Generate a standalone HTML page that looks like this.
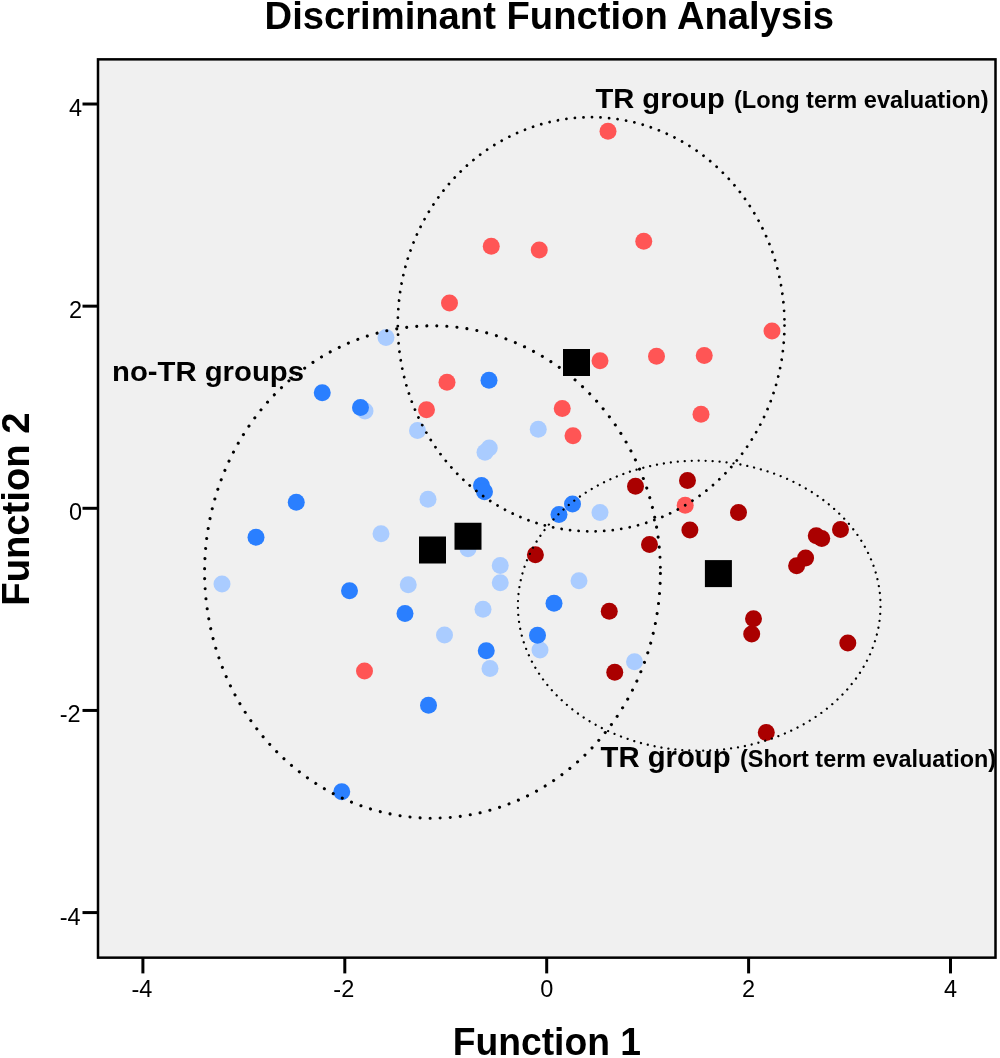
<!DOCTYPE html>
<html><head><meta charset="utf-8"><title>Discriminant Function Analysis</title>
<style>
html,body{margin:0;padding:0;background:#fff;}
svg{display:block;}
text{font-family:"Liberation Sans",Arial,sans-serif;fill:#000;}
.b{font-weight:bold;}
</style></head><body>
<svg width="1000" height="1058" viewBox="0 0 1000 1058">
<rect x="0" y="0" width="1000" height="1058" fill="#ffffff"/>
<rect x="98.0" y="59.35" width="897.5" height="898.3" fill="#f0f0f0" stroke="#000" stroke-width="2.5"/>

<g stroke="#000" stroke-width="3" fill="none">
<line x1="82.5" y1="912.58" x2="97.5" y2="912.58"/>
<line x1="142.90" y1="958" x2="142.90" y2="973.4"/>
<line x1="82.5" y1="710.44" x2="97.5" y2="710.44"/>
<line x1="344.80" y1="958" x2="344.80" y2="973.4"/>
<line x1="82.5" y1="508.30" x2="97.5" y2="508.30"/>
<line x1="546.70" y1="958" x2="546.70" y2="973.4"/>
<line x1="82.5" y1="306.16" x2="97.5" y2="306.16"/>
<line x1="748.60" y1="958" x2="748.60" y2="973.4"/>
<line x1="82.5" y1="104.02" x2="97.5" y2="104.02"/>
<line x1="950.50" y1="958" x2="950.50" y2="973.4"/>
</g>
<g font-size="23.5">
<text x="80.7" y="924.58" text-anchor="end">-4</text>
<text x="141.90" y="997" text-anchor="middle">-4</text>
<text x="80.7" y="722.44" text-anchor="end">-2</text>
<text x="343.80" y="997" text-anchor="middle">-2</text>
<text x="82.0" y="520.30" text-anchor="end">0</text>
<text x="546.70" y="997" text-anchor="middle">0</text>
<text x="82.0" y="318.16" text-anchor="end">2</text>
<text x="748.60" y="997" text-anchor="middle">2</text>
<text x="82.0" y="116.02" text-anchor="end">4</text>
<text x="950.50" y="997" text-anchor="middle">4</text>
</g>
<g fill="#aaccff">
<circle cx="386" cy="337.5" r="8.5"/>
<circle cx="365" cy="411" r="8.5"/>
<circle cx="417.5" cy="430.5" r="8.5"/>
<circle cx="428" cy="499.25" r="8.5"/>
<circle cx="381" cy="533.75" r="8.5"/>
<circle cx="538.25" cy="429.25" r="8.5"/>
<circle cx="489.25" cy="448" r="8.5"/>
<circle cx="485" cy="452.25" r="8.5"/>
<circle cx="600" cy="512.5" r="8.5"/>
<circle cx="222" cy="584" r="8.5"/>
<circle cx="408.25" cy="584.75" r="8.5"/>
<circle cx="444.5" cy="635" r="8.5"/>
<circle cx="468" cy="548.75" r="8.5"/>
<circle cx="500.25" cy="565.5" r="8.5"/>
<circle cx="500.25" cy="582.75" r="8.5"/>
<circle cx="579" cy="580.75" r="8.5"/>
<circle cx="483" cy="609.25" r="8.5"/>
<circle cx="540" cy="650" r="8.5"/>
<circle cx="490" cy="668.5" r="8.5"/>
<circle cx="634.5" cy="661.75" r="8.5"/>
</g>
<g fill="#2a7fff">
<circle cx="322.25" cy="392.75" r="8.5"/>
<circle cx="360.5" cy="407.5" r="8.5"/>
<circle cx="296.25" cy="502.25" r="8.5"/>
<circle cx="256" cy="537.25" r="8.5"/>
<circle cx="489" cy="380.25" r="8.5"/>
<circle cx="481.5" cy="485.5" r="8.5"/>
<circle cx="484.5" cy="491.75" r="8.5"/>
<circle cx="572.5" cy="504" r="8.5"/>
<circle cx="559" cy="514.5" r="8.5"/>
<circle cx="349.5" cy="590.75" r="8.5"/>
<circle cx="405" cy="613.5" r="8.5"/>
<circle cx="428.5" cy="705.25" r="8.5"/>
<circle cx="341.75" cy="791.75" r="8.5"/>
<circle cx="554" cy="603.25" r="8.5"/>
<circle cx="537.5" cy="635.25" r="8.5"/>
<circle cx="486.25" cy="650.75" r="8.5"/>
</g>
<g fill="#ff5555">
<circle cx="426.5" cy="409.75" r="8.5"/>
<circle cx="447" cy="382.25" r="8.5"/>
<circle cx="449.5" cy="303" r="8.5"/>
<circle cx="600" cy="360.75" r="8.5"/>
<circle cx="656.5" cy="356.25" r="8.5"/>
<circle cx="562.25" cy="408.5" r="8.5"/>
<circle cx="573" cy="435.75" r="8.5"/>
<circle cx="685.2" cy="505.3" r="8.5"/>
<circle cx="772" cy="331" r="8.5"/>
<circle cx="704.25" cy="355.5" r="8.5"/>
<circle cx="701" cy="414.25" r="8.5"/>
<circle cx="608" cy="131.25" r="8.5"/>
<circle cx="491.25" cy="246.25" r="8.5"/>
<circle cx="539.25" cy="250" r="8.5"/>
<circle cx="643.75" cy="241.25" r="8.5"/>
<circle cx="364.5" cy="671" r="8.5"/>
</g>
<g fill="#aa0000">
<circle cx="635.5" cy="486.2" r="8.5"/>
<circle cx="687.5" cy="480.5" r="8.5"/>
<circle cx="689.9" cy="530.1" r="8.5"/>
<circle cx="649.5" cy="544.5" r="8.5"/>
<circle cx="535.4" cy="554.8" r="8.5"/>
<circle cx="738.5" cy="512.5" r="8.5"/>
<circle cx="840.5" cy="529.5" r="8.5"/>
<circle cx="816.25" cy="535.75" r="8.5"/>
<circle cx="821.75" cy="538.6" r="8.5"/>
<circle cx="805.6" cy="558" r="8.5"/>
<circle cx="796.6" cy="565.7" r="8.5"/>
<circle cx="753.5" cy="618.7" r="8.5"/>
<circle cx="751.7" cy="633.9" r="8.5"/>
<circle cx="847.8" cy="642.9" r="8.5"/>
<circle cx="766.3" cy="732.5" r="8.5"/>
<circle cx="609.25" cy="611.25" r="8.5"/>
<circle cx="614.75" cy="672.25" r="8.5"/>
</g>
<g fill="#000">
<rect x="563.0" y="349.0" width="27" height="27"/>
<rect x="454.5" y="522.75" width="27" height="27"/>
<rect x="419.0" y="536.5" width="27" height="27"/>
<rect x="704.9" y="560.1" width="27" height="27"/>
</g>
<g fill="none" stroke="#000" stroke-linecap="round">
<ellipse cx="432.5" cy="572" rx="227.9" ry="246.2" stroke-width="3.1" stroke-dasharray="0.01 10.08" stroke-dashoffset="-1.4"/>
<ellipse cx="591.15" cy="324.3" rx="193.35" ry="207.1" stroke-width="2.8" stroke-dasharray="0.01 8.5626" stroke-dashoffset="-1.3"/>
<ellipse cx="699.2" cy="605.7" rx="181.3" ry="145" stroke-width="2.3" stroke-dasharray="0.01 6.9825" stroke-dashoffset="-1.2"/>
</g>
<text class="b" x="264.6" y="29.2" font-size="38.5" textLength="569.4" lengthAdjust="spacingAndGlyphs">Discriminant Function Analysis</text>
<text class="b" x="452.7" y="1054.6" font-size="38.5" textLength="188.3" lengthAdjust="spacingAndGlyphs">Function 1</text>
<text class="b" transform="translate(28.8,605.7) rotate(-90)" font-size="38.5" textLength="193.2" lengthAdjust="spacingAndGlyphs">Function 2</text>
<text class="b" x="112" y="381" font-size="27" textLength="192" lengthAdjust="spacingAndGlyphs">no-TR groups</text>
<text class="b" x="595.4" y="107.8" font-size="28.5" textLength="129.5" lengthAdjust="spacingAndGlyphs">TR group</text>
<text class="b" x="734" y="108.1" font-size="23" textLength="254.5" lengthAdjust="spacingAndGlyphs">(Long term evaluation)</text>
<text class="b" x="600.6" y="766.5" font-size="29" textLength="130" lengthAdjust="spacingAndGlyphs">TR group</text>
<text class="b" x="740" y="767.4" font-size="23" textLength="256" lengthAdjust="spacingAndGlyphs">(Short term evaluation)</text>
</svg>
</body></html>
